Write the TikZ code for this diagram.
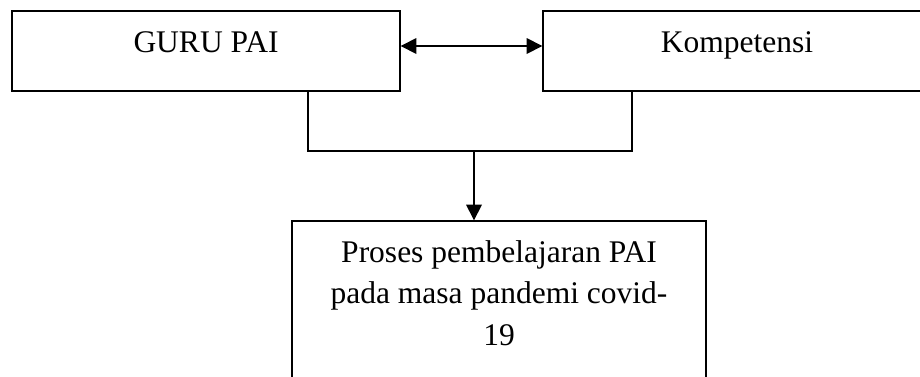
\documentclass[tikz,border=0pt]{standalone}
\usepackage{fontspec}
\setmainfont{Liberation Serif}
\usetikzlibrary{arrows.meta}
\begin{document}
\begin{tikzpicture}[x=0.5pt,y=-0.5pt,
  box/.style={draw, line width=0.7pt, rectangle, inner sep=0pt},
  txt/.style={inner sep=0pt, font=\fontsize{15.75}{21}\selectfont},
  conn/.style={line width=0.75pt},
  head/.tip={Triangle[length=7.8pt,width=7.8pt]},
  tip/.style={-head}]
  \useasboundingbox (0,0) rectangle (920,376);
  \clip (0,0) rectangle (920,376);
  % boxes
  \node[box, minimum width=194pt, minimum height=40pt] (guru) at (206,51) {};
  \node[box, minimum width=194pt, minimum height=40pt] (komp) at (737,51) {};
  \node[box, minimum width=207pt, minimum height=85pt] (proses) at (499,306) {};
  % labels
  \node[txt, anchor=base] (tguru) at (206,52) {GURU PAI};
  \node[txt, anchor=base] (tkomp) at (737,52) {Kompetensi};
  \node[txt, anchor=base] (tp1) at (499,262) {Proses pembelajaran PAI};
  \node[txt, anchor=base] (tp2) at (499,303) {pada masa pandemi covid-};
  \node[txt, anchor=base] (tp3) at (499,345) {19};
  % connectors
  \draw[conn, head-head] (guru.east |- 0,46) -- (komp.west |- 0,46);
  \coordinate (join) at (474,151);
  \draw[conn] (guru.south -| 308,0) |- (join) -| (komp.south -| 632,0);
  \draw[conn, tip] (join) -- (proses.north -| join);
\end{tikzpicture}
\end{document}
